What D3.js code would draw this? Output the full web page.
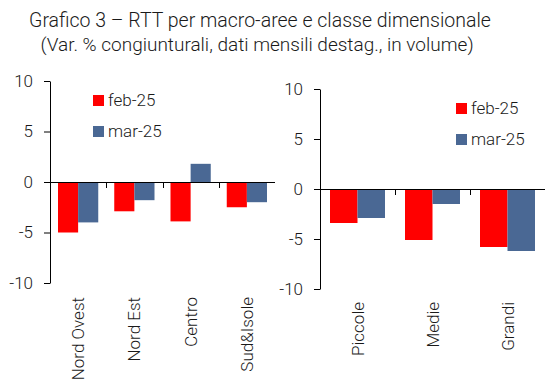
<!DOCTYPE html>
<html>
<head>
<meta charset="utf-8">
<script src="https://cdn.jsdelivr.net/npm/d3@7"></script>
<style>
  body { margin: 0; background: #fff; }
  text { font-family: Roboto, "Noto Sans", sans-serif; font-weight: 300; fill: #1a1a1a; }
</style>
</head>
<body>
<div id="chart"></div>
<script>
// data
const series = ["feb-25", "mar-25"];
const colors = ["#ff0000", "#4a6894"];
const areaCats = ["Nord Ovest", "Nord Est", "Centro", "Sud&Isole"];
const areaFeb = [-5.0, -2.9, -3.9, -2.5];
const areaMar = [-4.0, -1.8, 1.8, -2.0];
const sizeCats = ["Piccole", "Medie", "Grandi"];
const sizeFeb = [-3.4, -5.1, -5.8];
const sizeMar = [-2.9, -1.5, -6.2];
const yTicks = [-10, -5, 0, 5, 10];

const W = 549, H = 387;
const svg = d3.select("#chart").append("svg")
  .attr("width", W)
  .attr("height", H);

svg.append("text")
  .attr("x", 260).attr("y", 27)
  .attr("text-anchor", "middle")
  .style("font-size", "19.5px")
  .text("Grafico 3 \u2013 RTT per macro-aree e classe dimensionale");
svg.append("text")
  .attr("x", 257).attr("y", 51)
  .attr("text-anchor", "middle")
  .style("font-size", "19px")
  .text("(Var. % congiunturali, dati mensili destag., in volume)");

function panel(opts) {
  const { cats, feb, mar, x0, x1, yTop, yBot, pad, legX, labY } = opts;
  const g = svg.append("g");
  const x = d3.scaleBand().domain(cats).range([x0, x1]);
  const y = d3.scaleLinear().domain([-10, 10]).range([yBot, yTop]);
  const inner = d3.scaleBand().domain(series).range([pad, x.bandwidth() - pad]);

  // y axis (plain hyphen for negatives, like the original)
  const yAxis = g.append("g")
    .attr("transform", `translate(${x0},0)`)
    .call(d3.axisLeft(y).tickValues(yTicks).tickFormat(d => String(d))
      .tickSize(6).tickSizeOuter(0).tickPadding(11));
  yAxis.select(".domain").attr("stroke", "#000");
  yAxis.selectAll(".tick line").attr("stroke", "#000");
  yAxis.selectAll("text").style("font-size", "17px").attr("fill", "#1a1a1a");

  // bars
  const rows = cats.map((c, i) => ({ cat: c, vals: [feb[i], mar[i]] }));
  const grp = g.selectAll(".grp").data(rows).enter().append("g")
    .attr("transform", d => `translate(${x(d.cat)},0)`);
  grp.selectAll("rect")
    .data(d => d.vals.map((v, k) => ({ v, s: series[k], k })))
    .enter().append("rect")
    .attr("x", d => inner(d.s))
    .attr("width", inner.bandwidth())
    .attr("y", d => y(Math.max(0, d.v)))
    .attr("height", d => Math.abs(y(d.v) - y(0)))
    .attr("fill", d => colors[d.k]);

  // zero line with category ticks
  const xAxis = g.append("g")
    .attr("transform", `translate(0,${y(0)})`)
    .call(d3.axisBottom(x).tickSize(0).tickFormat(""));
  xAxis.select(".domain").attr("stroke", "#000").attr("d", `M${x0},0.5H${x1}`);
  xAxis.selectAll(".tick line").remove();
  g.selectAll(".sep").data(cats.slice(1)).enter().append("line")
    .attr("x1", d => Math.round(x(d)) + 0.5).attr("x2", d => Math.round(x(d)) + 0.5)
    .attr("y1", y(0)).attr("y2", y(0) + 6)
    .attr("stroke", "#000");

  // category labels
  g.selectAll(".lab").data(cats).enter().append("text")
    .attr("transform", d => `translate(${x(d) + x.bandwidth() / 2 + 6},${labY}) rotate(-90)`)
    .attr("text-anchor", "end")
    .style("font-size", "17px")
    .text(d => d);

  // legend
  series.forEach((s, k) => {
    const ly = y(10) + 14 + k * 31;
    g.append("rect")
      .attr("x", legX).attr("y", ly)
      .attr("width", 11).attr("height", 11)
      .attr("fill", colors[k]);
    g.append("text")
      .attr("x", legX + 15).attr("y", ly + 11)
      .style("font-size", "17px")
      .text(s);
  });
}

panel({ cats: areaCats, feb: areaFeb, mar: areaMar, x0: 50, x1: 275,
        yTop: 81, yBot: 283, pad: 8, legX: 93, labY: 297 });
panel({ cats: sizeCats, feb: sizeFeb, mar: sizeMar, x0: 320, x1: 545,
        yTop: 89, yBot: 289, pad: 10, legX: 456, labY: 302 });
</script>
</body>
</html>
